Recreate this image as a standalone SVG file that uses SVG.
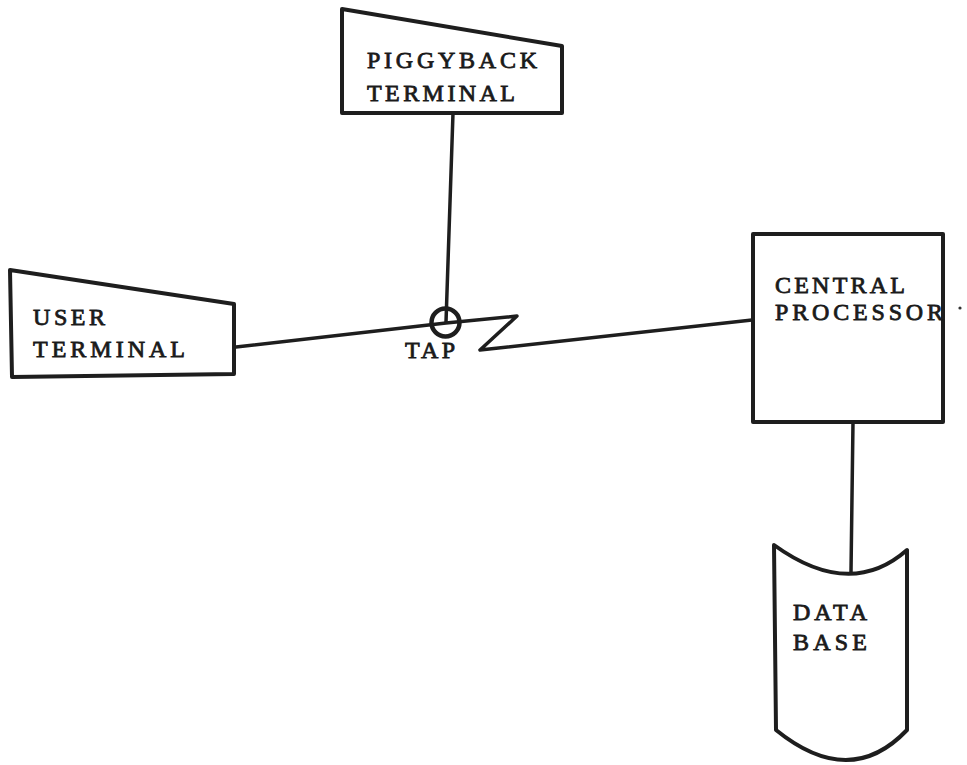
<svg xmlns="http://www.w3.org/2000/svg" width="967" height="765" viewBox="0 0 967 765">
<style>
.box{fill:#fff;stroke:#1e1e1e;stroke-width:4;stroke-linejoin:round}
.ln{fill:none;stroke:#1e1e1e;stroke-width:3.5;stroke-linejoin:round;stroke-linecap:round}
.t{font-family:"Liberation Serif",serif;font-size:24px;fill:#1a1a1a;stroke:#1a1a1a;stroke-width:0.8}
</style>
<rect width="967" height="765" fill="#fff"/>
<g id="connectors">
<line class="ln" x1="453" y1="113" x2="446" y2="322"/>
<polyline class="ln" points="236,347 446,323 517,316 480,350 752,320"/>
<line class="ln" x1="853" y1="422" x2="851" y2="572"/>
</g>
<g id="piggyback">
<polygon class="box" points="342,9 562,46 562,113 342,113"/>
<text class="t" x="367" y="68" textLength="170" lengthAdjust="spacing">PIGGYBACK</text>
<text class="t" x="367" y="101" textLength="148" lengthAdjust="spacing">TERMINAL</text>
</g>
<g id="user">
<polygon class="box" points="10,270 234,304 234,374 12,377"/>
<text class="t" x="33" y="325" textLength="72" lengthAdjust="spacing">USER</text>
<text class="t" x="33" y="357" textLength="152" lengthAdjust="spacing">TERMINAL</text>
</g>
<g id="tap">
<circle cx="445.5" cy="322.5" r="14" fill="none" stroke="#1e1e1e" stroke-width="4.5"/>
<text class="t" x="405" y="358" textLength="50" lengthAdjust="spacing">TAP</text>
</g>
<g id="central">
<rect class="box" x="753" y="234" width="190" height="188"/>
<text class="t" x="775" y="293" textLength="130" lengthAdjust="spacing">CENTRAL</text>
<text class="t" x="775" y="320" textLength="168" lengthAdjust="spacing">PROCESSOR</text>
<circle cx="960" cy="308" r="1.6" fill="#333"/>
</g>
<g id="database">
<path class="box" d="M774,545 Q850,600 907,550 L907,730 Q850,790 776,730 Z"/>
<text class="t" x="793" y="620" textLength="74" lengthAdjust="spacing">DATA</text>
<text class="t" x="793" y="650" textLength="74" lengthAdjust="spacing">BASE</text>
</g>
</svg>
